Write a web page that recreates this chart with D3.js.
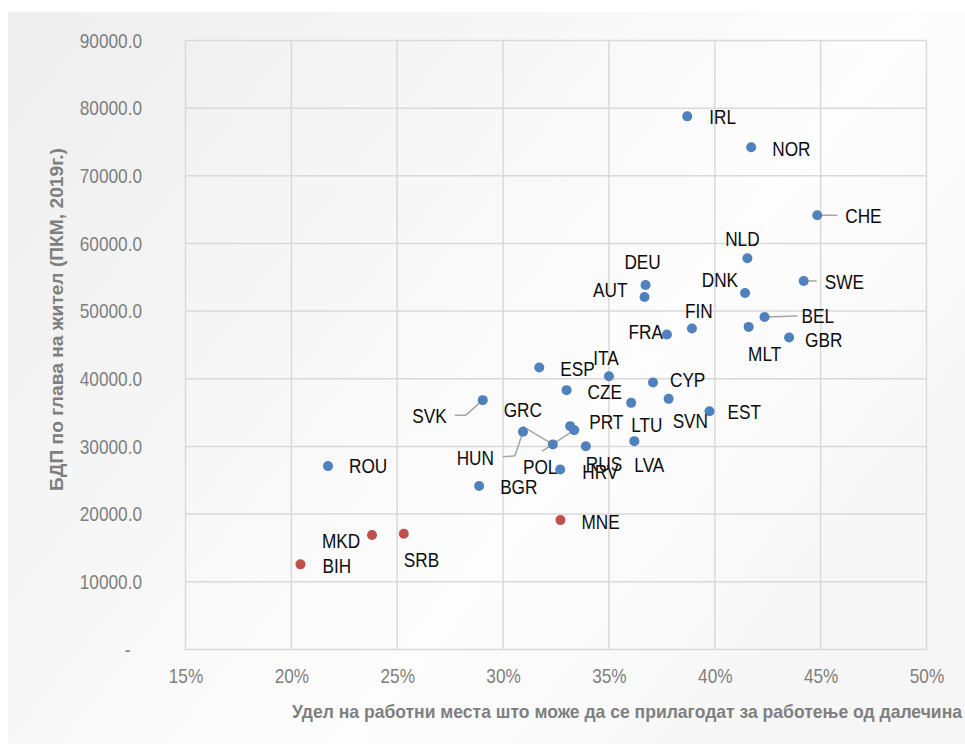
<!DOCTYPE html>
<html>
<head>
<meta charset="utf-8">
<script src="https://cdn.jsdelivr.net/npm/d3@7"></script>
<style>
	body { margin: 0; background: #fff; }
	text { font-family: "Liberation Sans", Arial, sans-serif; }
</style>
</head>
<body>
<div id="chart"></div>
<script>
// country codes, share of jobs that can be done remotely (%), GDP per capita (PPP, 2019)
const codes = ["IRL", "NOR", "CHE", "NLD", "SWE", "DNK", "DEU", "AUT", "BEL", "MLT", "GBR", "FIN", "FRA",
	"ESP", "ITA", "CYP", "CZE", "SVN", "LTU", "LVA", "EST", "SVK", "GRC", "HUN", "PRT", "POL", "RUS", "HRV",
	"ROU", "BGR", "MNE", "MKD", "SRB", "BIH"];
const remoteShare = [38.70, 41.72, 44.84, 41.54, 44.20, 41.43, 36.73, 36.68, 42.35, 41.60, 43.51, 38.92, 37.74,
	31.71, 35.00, 37.08, 33.00, 37.82, 36.05, 36.20, 39.75, 29.04, 32.35, 30.94, 33.17, 33.36, 33.91, 32.70,
	21.73, 28.87, 32.71, 23.81, 25.31, 20.43];
const gdpPerCapita = [78790, 74210, 64170, 57810, 54460, 52690, 53870, 52100, 49140, 47670, 46100, 47430, 46540,
	41670, 40380, 39450, 38320, 37030, 36440, 30780, 35210, 36840, 30300, 32160, 33000, 32410, 30040, 26600,
	27090, 24140, 19110, 16900, 17090, 12570];
const westernBalkans = ["MNE", "MKD", "SRB", "BIH"];

const xTicks = [15, 20, 25, 30, 35, 40, 45, 50];
const yTicks = [0, 10000, 20000, 30000, 40000, 50000, 60000, 70000, 80000, 90000];

const xTitle = "Удел на работни места што може да се прилагодат за работење од далечина";
const yTitle = "БДП по глава на жител (ПКМ, 2019г.)";

// label placement: [dx, dy, anchor] from the dot, plus optional leader line points
const labelPos = {
	IRL: [22, 0, "start"], NOR: [21, 1, "start"], CHE: [28, 0, "start"], NLD: [-5, -20, "middle"],
	SWE: [21, 1, "start"], DNK: [-7, -13, "end"], DEU: [-3, -23, "middle"], AUT: [-17, -7, "end"],
	BEL: [37, -1, "start"], MLT: [16, 27, "middle"], GBR: [16, 2, "start"], FIN: [7, -18, "middle"],
	FRA: [-4, -3, "end"], ESP: [21, 1, "start"], ITA: [-3, -19, "middle"], CYP: [17, -3, "start"],
	CZE: [21, 1, "start"], SVN: [4, 22, "start"], LTU: [0, 22, "start"], LVA: [0, 23, "start"],
	EST: [18, 0, "start"], SVK: [-36, 15, "end"], GRC: [-30, -35, "middle"], HUN: [-29, 26, "end"],
	PRT: [19, -5, "start"], POL: [-34, 37, "middle"], RUS: [0, 17, "start"], HRV: [22, 2, "start"],
	ROU: [21, 0, "start"], BGR: [21, 1, "start"], MNE: [21, 2, "start"], MKD: [-50, 6, "start"],
	SRB: [0, 26, "start"], BIH: [22, 1, "start"]
};
const leaders = {
	CHE: [[0, 0], [20, 0]], SWE: [[0, 0], [13, 0]], BEL: [[0, 0], [33, -1]],
	SVK: [[0, 0], [-17, 15], [-28, 15]], GRC: [[0, 0], [-30, -18]],
	HUN: [[0, 0], [-8, 24], [-20, 25]], POL: [[0, 0], [-32, 21]]
};

let data = codes.map((c, i) => ({ code: c, x: remoteShare[i], y: gdpPerCapita[i], wb: westernBalkans.includes(c) }));

let width = 965;
let height = 744;
let margin = { top: 40.5, right: 38.5, bottom: 94.6, left: 185.5 };
let narrow = 0.82; // the original uses a narrow typeface

// squeeze text horizontally around its own anchor point
function squash(sel) {
	sel.each(function () {
		let t = d3.select(this);
		let x = +t.attr("x") || 0;
		let y = +t.attr("y") || 0;
		t.attr("x", null).attr("y", null)
			.attr("transform", `translate(${x},${y}) scale(${narrow},1)`);
	});
}

let svg = d3.select("#chart")
	.append("svg")
	.attr("width", width)
	.attr("height", height);

// soft grey panel behind the chart
let grad = svg.append("defs").append("linearGradient")
	.attr("id", "bg")
	.attr("x1", "0%").attr("y1", "0%")
	.attr("x2", "100%").attr("y2", "60%");
grad.append("stop").attr("offset", "0%").attr("stop-color", "#eeeeee");
grad.append("stop").attr("offset", "70%").attr("stop-color", "#fdfdfd");
grad.append("stop").attr("offset", "100%").attr("stop-color", "#f6f6f6");

svg.append("rect")
	.attr("x", 8).attr("y", 12)
	.attr("width", width - 8).attr("height", height - 12)
	.attr("fill", "url(#bg)");

let xScale = d3.scaleLinear()
	.domain([15, 50])
	.range([margin.left, width - margin.right]);

let yScale = d3.scaleLinear()
	.domain([0, 90000])
	.range([height - margin.bottom, margin.top]);

// grid
svg.append("g")
	.selectAll("line")
	.data(xTicks)
	.enter()
	.append("line")
	.attr("x1", d => xScale(d)).attr("x2", d => xScale(d))
	.attr("y1", yScale(0)).attr("y2", yScale(90000))
	.attr("stroke", "#d9d9d9")
	.attr("stroke-width", 1.5);

svg.append("g")
	.selectAll("line")
	.data(yTicks)
	.enter()
	.append("line")
	.attr("x1", xScale(15)).attr("x2", xScale(50))
	.attr("y1", d => yScale(d)).attr("y2", d => yScale(d))
	.attr("stroke", "#d9d9d9")
	.attr("stroke-width", 1.5);

// axes
let xAxis = svg.append("g")
	.attr("transform", `translate(0,${height - margin.bottom})`)
	.call(d3.axisBottom(xScale).tickValues(xTicks).tickSize(0).tickPadding(19).tickFormat(d => d + "%"));

let yAxis = svg.append("g")
	.attr("transform", `translate(${margin.left},0)`)
	.call(d3.axisLeft(yScale).tickValues(yTicks).tickSize(0).tickPadding(43.5)
		.tickFormat(d => d === 0 ? "-" : d3.format(".1f")(d)));

[xAxis, yAxis].forEach(a => {
	a.select(".domain").remove();
	a.selectAll("text")
		.attr("fill", "#7f7f7f")
		.style("font-size", "21px")
		.call(squash);
});
yAxis.selectAll("text").filter(d => d === 0).attr("dx", "-14px");

// axis titles
svg.append("text")
	.attr("x", 292)
	.attr("y", 718)
	.attr("textLength", 670)
	.attr("lengthAdjust", "spacingAndGlyphs")
	.style("font-size", "19px")
	.style("font-weight", "bold")
	.attr("fill", "#7f7f7f")
	.text(xTitle);

svg.append("text")
	.attr("transform", "rotate(-90)")
	.attr("x", -491)
	.attr("y", 63)
	.attr("textLength", 343)
	.attr("lengthAdjust", "spacingAndGlyphs")
	.style("font-size", "19px")
	.style("font-weight", "bold")
	.attr("fill", "#7f7f7f")
	.text(yTitle);

// leader lines
svg.append("g")
	.selectAll("path")
	.data(data.filter(d => leaders[d.code]))
	.enter()
	.append("path")
	.attr("d", d => d3.line()(leaders[d.code].map(p => [xScale(d.x) + p[0], yScale(d.y) + p[1]])))
	.attr("fill", "none")
	.attr("stroke", "#a6a6a6")
	.attr("stroke-width", 1.5);

// dots
svg.append("g")
	.selectAll("circle")
	.data(data)
	.enter()
	.append("circle")
	.attr("cx", d => xScale(d.x))
	.attr("cy", d => yScale(d.y))
	.attr("r", 5)
	.attr("fill", d => d.wb ? "#c0504d" : "#4f81bd");

// labels
svg.append("g")
	.selectAll("text")
	.data(data)
	.enter()
	.append("text")
	.attr("x", d => xScale(d.x) + labelPos[d.code][0])
	.attr("y", d => yScale(d.y) + labelPos[d.code][1])
	.attr("dy", "0.35em")
	.style("text-anchor", d => labelPos[d.code][2])
	.style("font-size", "21px")
	.attr("fill", "#0d0d0d")
	.text(d => d.code)
	.call(squash);
</script>
</body>
</html>
